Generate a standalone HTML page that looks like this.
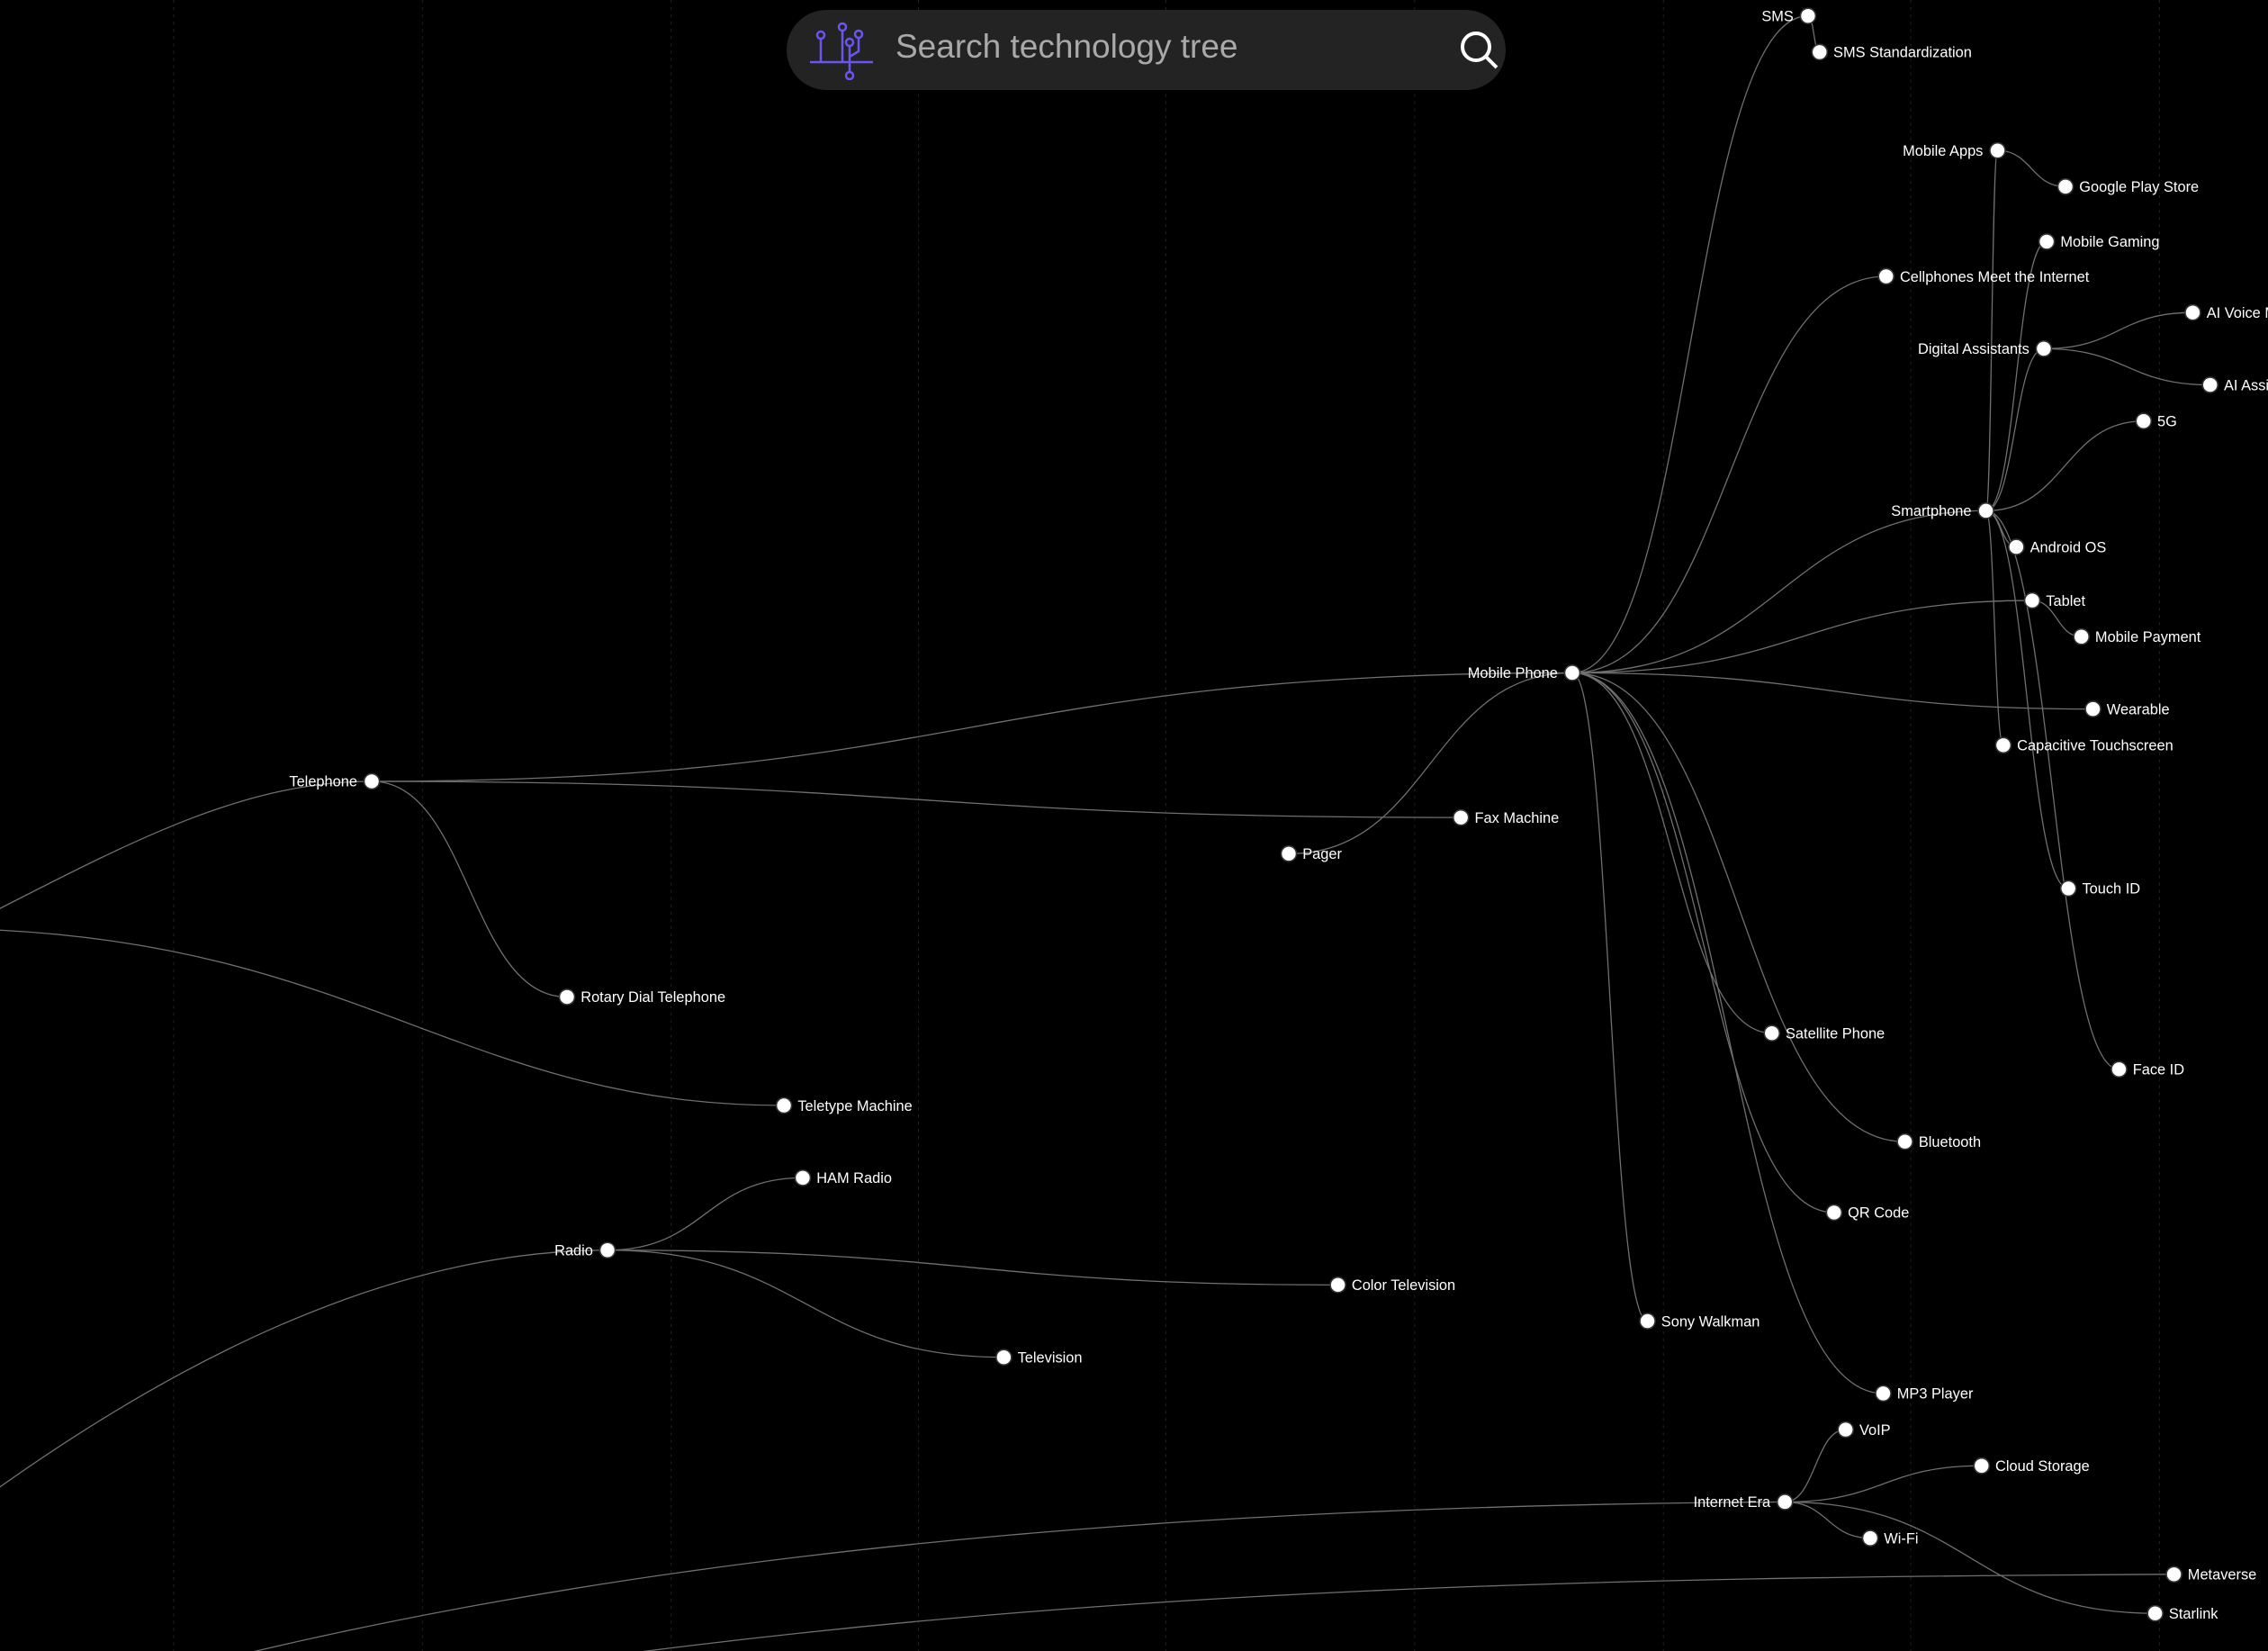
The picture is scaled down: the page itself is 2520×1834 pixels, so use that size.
<!DOCTYPE html>
<html><head><meta charset="utf-8"><style>
html,body{margin:0;padding:0;background:#000;width:2520px;height:1834px;overflow:hidden}
svg{position:absolute;left:0;top:0}
.bar{position:absolute;left:874px;top:11px;width:799px;height:89px;border-radius:45px;background:#232323}
.bar span{position:absolute;left:121px;top:20px;font:37px "Liberation Sans",sans-serif;color:#a9a9a9}
</style></head><body>
<svg width="2520" height="1834" viewBox="0 0 1568 1141" preserveAspectRatio="none" font-family="Liberation Sans, sans-serif">
<g stroke="#1e1e1e" stroke-width="0.7" stroke-dasharray="2,3">
<line x1="120" y1="0" x2="120" y2="1141"/><line x1="292" y1="0" x2="292" y2="1141"/><line x1="464" y1="0" x2="464" y2="1141"/><line x1="635" y1="0" x2="635" y2="1141"/><line x1="806" y1="0" x2="806" y2="1141"/><line x1="978" y1="0" x2="978" y2="1141"/><line x1="1150" y1="0" x2="1150" y2="1141"/><line x1="1321" y1="0" x2="1321" y2="1141"/><line x1="1493" y1="0" x2="1493" y2="1141"/>
</g>
<g fill="none" stroke="#707070" stroke-width="0.8" id="e">
<path d="M-80 668 C60 600, 150 540, 257 540"/>
<path d="M-20 642 C250 650, 320 764, 542 764"/>
<path d="M-70 1080 C120 930, 280 864, 420 864"/>
<path d="M140 1150 C500 1060, 900 1040, 1234 1038"/>
<path d="M380 1150 C750 1098, 1100 1090, 1503 1088"/>
</g>
<g id="n"></g>
</svg>
<div class="bar"><span>Search technology tree</span>
<svg width="80" height="70" viewBox="0 0 80 70" style="left:24px;top:8px" fill="none" stroke="#6a55f0" stroke-width="2.5">
<line x1="2" y1="50" x2="72" y2="50"/><line x1="14" y1="50" x2="14" y2="25"/><circle cx="14" cy="20" r="4"/>
<line x1="38" y1="50" x2="38" y2="16"/><circle cx="38" cy="11" r="4"/><line x1="46" y1="50" x2="46" y2="32"/><circle cx="46" cy="28" r="4"/>
<path d="M46 44 L56 38 L56 24"/><circle cx="56" cy="19" r="4"/><line x1="46" y1="50" x2="46" y2="61"/><circle cx="46" cy="65" r="4"/></svg>
<svg width="50" height="50" viewBox="0 0 50 50" style="left:745px;top:20px" fill="none" stroke="#fff" stroke-width="4"><circle cx="21" cy="21" r="15"/><line x1="32" y1="32" x2="44" y2="44"/></svg>
</div>
<script>
const N={tel:[257,540,'Telephone',1],rot:[392,689,'Rotary Dial Telephone'],tty:[542,764,'Teletype Machine'],ham:[555,814,'HAM Radio'],rad:[420,864,'Radio',1],ctv:[925,888,'Color Television'],tv:[694,938,'Television'],mob:[1087,465,'Mobile Phone',1],fax:[1010,565,'Fax Machine'],pag:[891,590,'Pager'],sms:[1250,11,'SMS',1],smss:[1258,36,'SMS Standardization'],app:[1381,104,'Mobile Apps',1],gps:[1428,129,'Google Play Store'],gam:[1415,167,'Mobile Gaming'],cmi:[1304,191,'Cellphones Meet the Internet'],aiv:[1516,216,'AI Voice Models'],da:[1413,241,'Digital Assistants',1],aia:[1528,266,'AI Assistants'],g5:[1482,291,'5G'],sp:[1373,353,'Smartphone',1],and:[1394,378,'Android OS'],tab:[1405,415,'Tablet'],pay:[1439,440,'Mobile Payment'],wea:[1447,490,'Wearable'],cap:[1385,515,'Capacitive Touchscreen'],tid:[1430,614,'Touch ID'],fid:[1465,739,'Face ID'],sat:[1225,714,'Satellite Phone'],blu:[1317,789,'Bluetooth'],qr:[1268,838,'QR Code'],walk:[1139,913,'Sony Walkman'],mp3:[1302,963,'MP3 Player'],voip:[1276,988,'VoIP'],cld:[1370,1013,'Cloud Storage'],ie:[1234,1038,'Internet Era',1],wifi:[1293,1063,'Wi-Fi'],meta:[1503,1088,'Metaverse'],star:[1490,1115,'Starlink']};
const E=[['tel','mob'],['tel','fax'],['tel','rot'],['mob','pag'],['mob','sms'],['sms','smss'],['mob','cmi'],['mob','sp'],['mob','tab'],['mob','wea'],['mob','sat'],['mob','blu'],['mob','qr'],['mob','walk'],['mob','mp3'],['sp','app'],['app','gps'],['sp','gam'],['sp','da'],['da','aiv'],['da','aia'],['sp','g5'],['sp','and'],['sp','cap'],['sp','tid'],['sp','fid'],['tab','pay'],['rad','ham'],['rad','ctv'],['rad','tv'],['ie','voip'],['ie','cld'],['ie','wifi'],['ie','star']];
const ns='http://www.w3.org/2000/svg';let eg=document.getElementById('e'),ng=document.getElementById('n');
E.forEach(([a,b])=>{let p=N[a],q=N[b],m=(p[0]+q[0])/2;let d=document.createElementNS(ns,'path');d.setAttribute('d',`M${p[0]} ${p[1]}C${m} ${p[1]} ${m} ${q[1]} ${q[0]} ${q[1]}`);eg.appendChild(d);});
for(const k in N){const v=N[k];let c=document.createElementNS(ns,'circle');c.setAttribute('cx',v[0]);c.setAttribute('cy',v[1]);c.setAttribute('r',5.3);c.setAttribute('fill','#fff');c.setAttribute('stroke','#333');c.setAttribute('stroke-width','1');ng.appendChild(c);
let t=document.createElementNS(ns,'text');t.textContent=v[2];t.setAttribute('y',v[1]+3.6);t.setAttribute('font-size','10.2');t.setAttribute('fill','#fff');if(v[3]){t.setAttribute('x',v[0]-10);t.setAttribute('text-anchor','end');}else t.setAttribute('x',v[0]+9.5);ng.appendChild(t);}
</script>
</body></html>
